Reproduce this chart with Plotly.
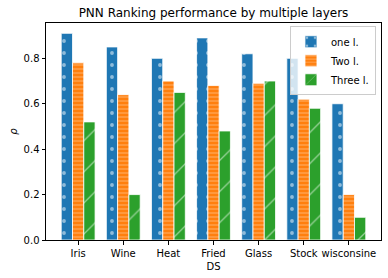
import plotly.graph_objects as go

categories = ["Iris", "Wine", "Heat", "Fried", "Glass", "Stock", "wisconsine"]
one_layer = [0.91, 0.85, 0.80, 0.89, 0.82, 0.80, 0.60]
two_layer = [0.78, 0.64, 0.70, 0.68, 0.69, 0.62, 0.20]
three_layer = [0.52, 0.20, 0.65, 0.48, 0.70, 0.58, 0.10]
y_ticks = [0.0, 0.2, 0.4, 0.6, 0.8]

font = "DejaVu Sans"

fig = go.Figure()
fig.add_trace(go.Bar(
    x=categories, y=one_layer, name="one l.",
    marker=dict(color="#1f77b4", line=dict(color="white", width=0.8),
                pattern=dict(shape=".", fgcolor="white", size=12, solidity=0.08)),
))
fig.add_trace(go.Bar(
    x=categories, y=two_layer, name="Two l.",
    marker=dict(color="#ff7f0e", line=dict(color="white", width=0.8),
                pattern=dict(shape="-", fgcolor="rgba(255,255,255,0.55)", size=4, solidity=0.35)),
))
fig.add_trace(go.Bar(
    x=categories, y=three_layer, name="Three l.",
    marker=dict(color="#2ca02c", line=dict(color="white", width=0.8),
                pattern=dict(shape="/", fgcolor="white", size=22, solidity=0.06)),
))

fig.update_layout(
    width=388, height=278,
    margin=dict(l=46, r=7, t=23, b=38, autoexpand=False),
    paper_bgcolor="white", plot_bgcolor="white",
    font=dict(family=font, size=10, color="black"),
    barmode="group", bargap=0.25, bargroupgap=0,
    title=dict(text="PNN Ranking performance by multiple layers", x=0.5, xanchor="center",
               xref="paper", y=0.955, yref="container", yanchor="middle", automargin=False,
               font=dict(size=12, family=font, color="black")),
    showlegend=True,
    legend=dict(x=0.985, y=0.985, xanchor="right", yanchor="top",
                bgcolor="rgba(255,255,255,0.8)", bordercolor="#cccccc", borderwidth=1,
                font=dict(size=10, family=font), tracegroupgap=0, itemwidth=30),
    xaxis=dict(range=[-0.7125, 6.7125], showline=True, mirror=True, linecolor="black", linewidth=1,
               ticks="outside", ticklen=3.5, tickcolor="black", showgrid=False, automargin=False,
               title=dict(text="DS", standoff=5, font=dict(size=10))),
    yaxis=dict(range=[0, 0.9555], showline=True, mirror=True, linecolor="black", linewidth=1,
               ticks="outside", ticklen=3.5, tickcolor="black", showgrid=False, zeroline=False,
               tickvals=y_ticks, tickformat=".1f", automargin=False,
               title=dict(text="<i>ρ</i>", standoff=4, font=dict(size=10))),
)

fig.write_html("out.html", config={"displayModeBar": False},
               post_script="document.body.style.margin='0';")
